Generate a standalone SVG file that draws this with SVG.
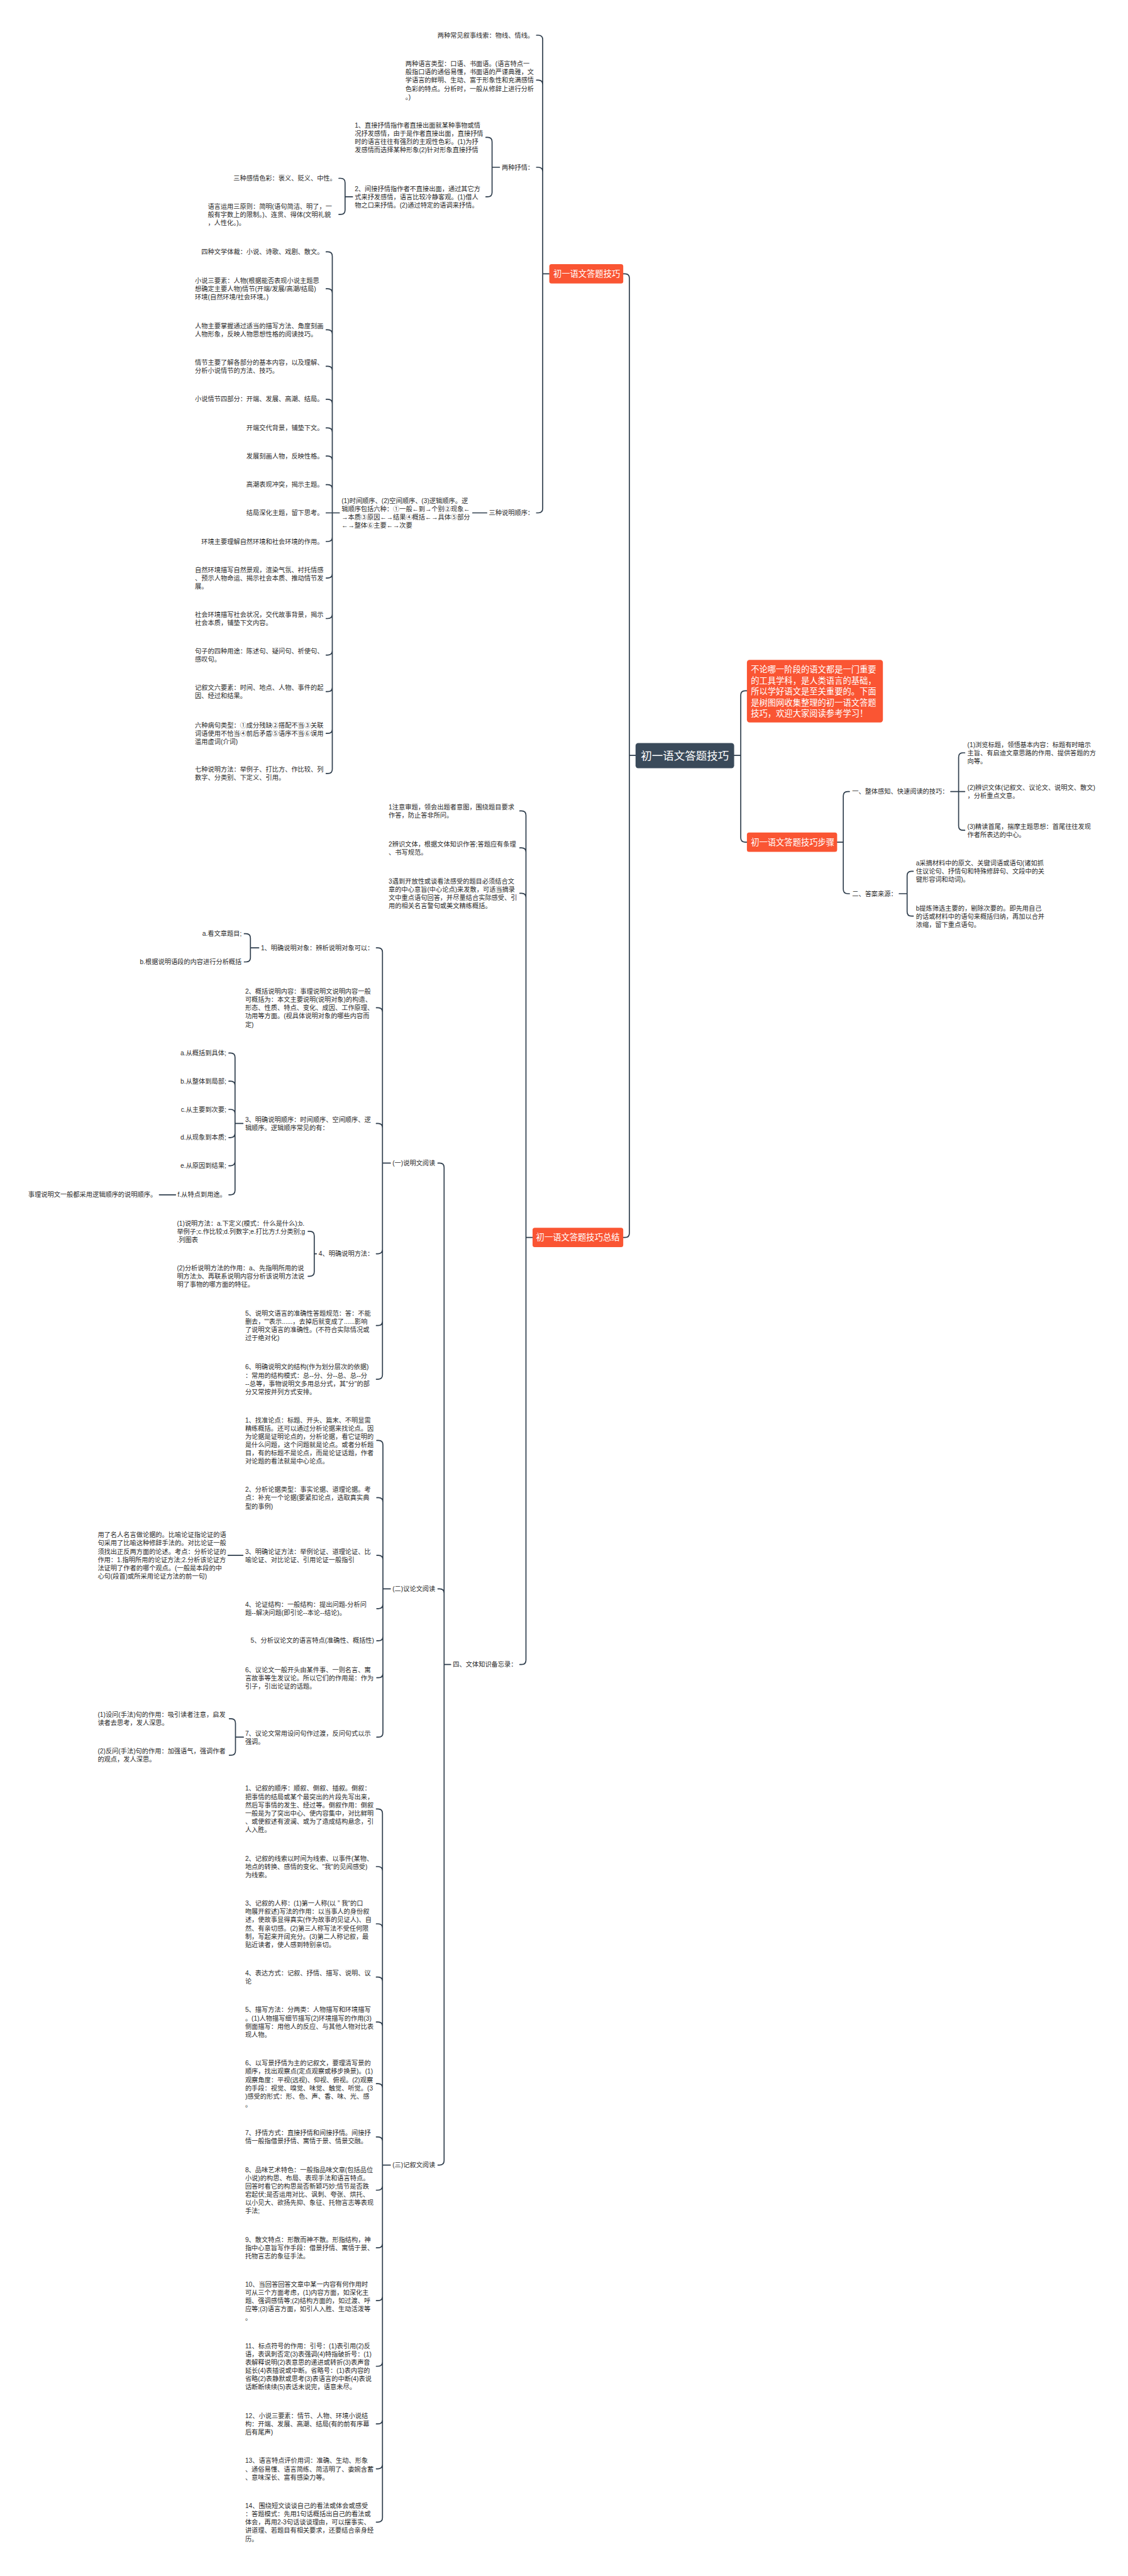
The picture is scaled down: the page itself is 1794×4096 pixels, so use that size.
<svg xmlns="http://www.w3.org/2000/svg" width="1794" height="4096" viewBox="0 0 1794 4096">
<style>
text{font-family:"Liberation Sans","Noto Sans CJK SC",sans-serif;dominant-baseline:central}
.t{font-size:14.6px;fill:#2A2A2A}
.e{text-anchor:end}
.w{fill:#fff;font-size:19px}
.r{fill:#fff;font-size:25px;text-anchor:middle}
.c{fill:none;stroke:#2E3D4C;stroke-width:2.4;stroke-linecap:round}
.o{fill:#FA5533}
</style>
<rect width="1794" height="4096" fill="#fff"/>
<g transform="scale(0.7)">
<g id="connectors">
<path class="c" d="M1444 1716H1430M1430 632V2801M1430 632Q1430 622 1420 622H1416M1430 2801Q1430 2811 1420 2811H1416"/>
<path class="c" d="M1668 1716H1683M1683 1579V1903M1683 1579Q1683 1569 1693 1569H1697M1683 1903Q1683 1913 1693 1913H1697"/>
<path class="c" d="M1248 622H1233M1233 90V1155M1233 90Q1233 80 1223 80H1219M1233 192Q1233 182 1223 182H1219M1233 390Q1233 380 1223 380H1219M1233 1155Q1233 1165 1223 1165H1219"/>
<path class="c" d="M1135 380H1118M1118 322V437M1118 322Q1118 312 1108 312H1104M1118 437Q1118 447 1108 447H1104"/>
<path class="c" d="M801 447H784M784 415V477M784 415Q784 405 774 405H770M784 477Q784 487 774 487H770"/>
<path class="c" d="M1106 1165H1074"/>
<path class="c" d="M771 1165H755M755 582V1747M755 582Q755 572 745 572H741M755 666Q755 656 745 656H741M755 759Q755 749 745 749H741M755 842Q755 832 745 832H741M755 917Q755 907 745 907H741M755 982Q755 972 745 972H741M755 1046Q755 1036 745 1036H741M755 1111Q755 1101 745 1101H741M755 1165H741M755 1220Q755 1230 745 1230H741M755 1303Q755 1313 745 1313H741M755 1395Q755 1405 745 1405H741M755 1478Q755 1488 745 1488H741M755 1561Q755 1571 745 1571H741M755 1656Q755 1666 745 1666H741M755 1747Q755 1757 745 1757H741"/>
<path class="c" d="M1210 2811H1195M1195 1852V3771M1195 1852Q1195 1842 1185 1842H1181M1195 1936Q1195 1926 1185 1926H1181M1195 2039Q1195 2029 1185 2029H1181M1195 3771Q1195 3781 1185 3781H1181"/>
<path class="c" d="M1024 3781H1009M1009 2652V4908M1009 2652Q1009 2642 999 2642H995M1009 3619Q1009 3609 999 3609H995M1009 4908Q1009 4918 999 4918H995"/>
<path class="c" d="M887 2642H869M869 2163V3123M869 2163Q869 2153 859 2153H855M869 2299Q869 2289 859 2289H855M869 2562Q869 2552 859 2552H855M869 2838Q869 2848 859 2848H855M869 3001Q869 3011 859 3011H855M869 3123Q869 3133 859 3133H855"/>
<path class="c" d="M588 2153H569M569 2131V2175M569 2131Q569 2121 559 2121H555M569 2175Q569 2185 559 2185H555"/>
<path class="c" d="M552 2552H534M534 2402V2704M534 2402Q534 2392 524 2392H520M534 2466Q534 2456 524 2456H520M534 2530Q534 2520 524 2520H520M534 2574Q534 2584 524 2584H520M534 2638Q534 2648 524 2648H520M534 2704Q534 2714 524 2714H520"/>
<path class="c" d="M399 2714H362"/>
<path class="c" d="M719 2848H714M714 2807V2889M714 2807Q714 2797 704 2797H700M714 2889Q714 2899 704 2899H700"/>
<path class="c" d="M887 3609H870M870 3282V3936M870 3282Q870 3272 860 3272H856M870 3412Q870 3402 860 3402H856M870 3543Q870 3533 860 3533H856M870 3644Q870 3654 860 3654H856M870 3717Q870 3727 860 3727H856M870 3801Q870 3811 860 3811H856M870 3936Q870 3946 860 3946H856"/>
<path class="c" d="M552 3533H518"/>
<path class="c" d="M553 3946H535M535 3914V3977M535 3914Q535 3904 525 3904H521M535 3977Q535 3987 525 3987H521"/>
<path class="c" d="M887 4918H869M869 4119V5719M869 4119Q869 4109 859 4109H855M869 4250Q869 4240 859 4240H855M869 4380Q869 4370 859 4370H855M869 4501Q869 4491 859 4491H855M869 4603Q869 4593 859 4593H855M869 4743Q869 4733 859 4733H855M869 4864Q869 4854 859 4854H855M869 4965Q869 4975 859 4975H855M869 5096Q869 5106 859 5106H855M869 5216Q869 5226 859 5226H855M869 5365Q869 5375 859 5375H855M869 5496Q869 5506 859 5506H855M869 5598Q869 5608 859 5608H855M869 5719Q869 5729 859 5729H855"/>
<path class="c" d="M1902 1913H1916M1916 1808V2020M1916 1808Q1916 1798 1926 1798H1930M1916 2020Q1916 2030 1926 2030H1930"/>
<path class="c" d="M2160 1798H2178M2178 1720V1876M2178 1720Q2178 1710 2188 1710H2192M2178 1798H2192M2178 1876Q2178 1886 2188 1886H2192"/>
<path class="c" d="M2043 2030H2061M2061 1989V2071M2061 1989Q2061 1979 2071 1979H2075M2061 2071Q2061 2081 2071 2081H2075"/>
</g>

<g id="n-root"><rect x="1444" y="1688" width="224" height="57" rx="6" fill="#3A4A5A"/><text class="r" x="1556" y="1716.5">初一语文答题技巧</text></g>
<g id="n-o1"><rect class="o" x="1248" y="600" width="168" height="44" rx="5"/><text class="w" x="1257" y="622">初一语文答题技巧</text></g>
<g id="n-o2"><rect class="o" x="1210" y="2789" width="206" height="44" rx="5"/><text class="w" x="1218" y="2811">初一语文答题技巧总结</text></g>
<g id="n-intro"><rect class="o" x="1697" y="1499" width="309" height="142" rx="6"/><text class="w"><tspan x="1706" y="1520">不论哪一阶段的语文都是一门重要</tspan><tspan x="1706" y="1545">的工具学科，是人类语言的基础，</tspan><tspan x="1706" y="1570">所以学好语文是至关重要的。下面</tspan><tspan x="1706" y="1595">是树图网收集整理的初一语文答题</tspan><tspan x="1706" y="1620">技巧，欢迎大家阅读参考学习！</tspan></text></g>
<g id="n-step"><rect class="o" x="1697" y="1891" width="205" height="44" rx="5"/><text class="w" x="1706" y="1913">初一语文答题技巧步骤</text></g>

<g id="n-r1"><text class="t" x="1936" y="1798">一、整体感知、快速阅读的技巧：</text></g>
<g id="n-r2"><text class="t" x="1936" y="2030">二、答案来源：</text></g>
<g id="n-r11"><text class="t"><tspan x="2198" y="1691.2">(1)浏览标题，领悟基本内容：标题有时暗示</tspan><tspan x="2198" y="1710">主旨、有启迪文章思路的作用、提供答题的方</tspan><tspan x="2198" y="1728.8">向等。</tspan></text></g>
<g id="n-r12"><text class="t"><tspan x="2198" y="1788.6">(2)辨识文体(记叙文、议论文、说明文、散文)</tspan><tspan x="2198" y="1807.4">，分析重点文意。</tspan></text></g>
<g id="n-r13"><text class="t"><tspan x="2198" y="1876.6">(3)精读首尾，揣摩主题思想：首尾往往发现</tspan><tspan x="2198" y="1895.4">作者所表达的中心。</tspan></text></g>
<g id="n-r21"><text class="t"><tspan x="2081" y="1960.2">a采摘材料中的原文、关键词语或语句(诸如抓</tspan><tspan x="2081" y="1979">住议论句、抒情句和特殊修辞句、文段中的关</tspan><tspan x="2081" y="1997.8">键形容词和动词)。</tspan></text></g>
<g id="n-r22"><text class="t"><tspan x="2081" y="2062.2">b提炼筛选主要的，剔除次要的。即先用自己</tspan><tspan x="2081" y="2081">的话或材料中的语句来概括归纳，再加以合并</tspan><tspan x="2081" y="2099.8">浓缩，留下重点语句。</tspan></text></g>

<g id="n-a1"><text class="t e" x="1213" y="80">两种常见叙事线索：物线、情线。</text></g>
<g id="n-a2"><text class="t"><tspan x="921" y="144.4">两种语言类型：口语、书面语。(语言特点一</tspan><tspan x="921" y="163.2">般指口语的通俗易懂，书面语的严谨典雅，文</tspan><tspan x="921" y="182">学语言的鲜明、生动、富于形象性和充满感情</tspan><tspan x="921" y="200.8">色彩的特点。分析时，一般从修辞上进行分析</tspan><tspan x="921" y="219.6">。)</tspan></text></g>
<g id="n-a3"><text class="t e" x="1213" y="380">两种抒情：</text></g>
<g id="n-b1"><text class="t"><tspan x="806" y="283.8">1、直接抒情指作者直接出面就某种事物或情</tspan><tspan x="806" y="302.6">况抒发感情，由于是作者直接出面，直接抒情</tspan><tspan x="806" y="321.4">时的语言往往有强烈的主观性色彩。(1)为抒</tspan><tspan x="806" y="340.2">发感情而选择某种形象(2)针对形象直接抒情</tspan></text></g>
<g id="n-b2"><text class="t"><tspan x="806" y="428.2">2、间接抒情指作者不直接出面，通过其它方</tspan><tspan x="806" y="447">式来抒发感情，语言比较冷静客观。(1)借人</tspan><tspan x="806" y="465.8">物之口来抒情。(2)通过特定的语调来抒情。</tspan></text></g>
<g id="n-c1"><text class="t e" x="764" y="405">三种感情色彩：褒义、贬义、中性。</text></g>
<g id="n-c2"><text class="t"><tspan x="472" y="468.2">语言运用三原则：简明(语句简洁、明了，一</tspan><tspan x="472" y="487">般有字数上的限制。)、连贯、得体(文明礼貌</tspan><tspan x="472" y="505.8">，人性化。)。</tspan></text></g>
<g id="n-a4"><text class="t e" x="1213" y="1165">三种说明顺序：</text></g>
<g id="n-s1"><text class="t"><tspan x="776" y="1136.8">(1)时间顺序、(2)空间顺序、(3)逻辑顺序。逻</tspan><tspan x="776" y="1155.6">辑顺序包括六种：①一般←到→个别②现象←</tspan><tspan x="776" y="1174.4">→本质③原因←→结果④概括←→具体⑤部分</tspan><tspan x="776" y="1193.2">←→整体⑥主要←→次要</tspan></text></g>

<g id="n-d1"><text class="t e" x="735" y="572">四种文学体裁：小说、诗歌、戏剧、散文。</text></g>
<g id="n-d2"><text class="t"><tspan x="443" y="637.2">小说三要素：人物(根据能否表现小说主题思</tspan><tspan x="443" y="656">想确定主要人物)情节(开端/发展/高潮/结局)</tspan><tspan x="443" y="674.8">环境(自然环境/社会环境。)</tspan></text></g>
<g id="n-d3"><text class="t"><tspan x="443" y="739.6">人物主要掌握通过适当的描写方法、角度刻画</tspan><tspan x="443" y="758.4">人物形象，反映人物思想性格的阅读技巧。</tspan></text></g>
<g id="n-d4"><text class="t"><tspan x="443" y="822.6">情节主要了解各部分的基本内容，以及理解、</tspan><tspan x="443" y="841.4">分析小说情节的方法、技巧。</tspan></text></g>
<g id="n-d5"><text class="t e" x="735" y="907">小说情节四部分：开端、发展、高潮、结局。</text></g>
<g id="n-d6"><text class="t e" x="735" y="972">开端交代背景，铺垫下文。</text></g>
<g id="n-d7"><text class="t e" x="735" y="1036">发展刻画人物，反映性格。</text></g>
<g id="n-d8"><text class="t e" x="735" y="1101">高潮表现冲突，揭示主题。</text></g>
<g id="n-d9"><text class="t e" x="735" y="1165">结局深化主题，留下思考。</text></g>
<g id="n-d10"><text class="t e" x="735" y="1230">环境主要理解自然环境和社会环境的作用。</text></g>
<g id="n-d11"><text class="t"><tspan x="443" y="1294.2">自然环境描写自然景观，渲染气氛、衬托情感</tspan><tspan x="443" y="1313">、预示人物命运、揭示社会本质、推动情节发</tspan><tspan x="443" y="1331.8">展。</tspan></text></g>
<g id="n-d12"><text class="t"><tspan x="443" y="1395.6">社会环境描写社会状况，交代故事背景，揭示</tspan><tspan x="443" y="1414.4">社会本质，铺垫下文内容。</tspan></text></g>
<g id="n-d13"><text class="t"><tspan x="443" y="1478.6">句子的四种用途：陈述句、疑问句、祈使句、</tspan><tspan x="443" y="1497.4">感叹句。</tspan></text></g>
<g id="n-d14"><text class="t"><tspan x="443" y="1561.6">记叙文六要素：时间、地点、人物、事件的起</tspan><tspan x="443" y="1580.4">因、经过和结果。</tspan></text></g>
<g id="n-d15"><text class="t"><tspan x="443" y="1647.2">六种病句类型：①成分残缺②搭配不当③关联</tspan><tspan x="443" y="1666">词语使用不恰当④前后矛盾⑤语序不当⑥误用</tspan><tspan x="443" y="1684.8">滥用虚词(介词)</tspan></text></g>
<g id="n-d16"><text class="t"><tspan x="443" y="1747.6">七种说明方法：举例子、打比方、作比较、列</tspan><tspan x="443" y="1766.4">数字、分类别、下定义、引用。</tspan></text></g>

<g id="n-e1"><text class="t"><tspan x="883" y="1832.6">1注意审题，领会出题者意图，围绕题目要求</tspan><tspan x="883" y="1851.4">作答，防止答非所问。</tspan></text></g>
<g id="n-e2"><text class="t"><tspan x="883" y="1916.6">2辨识文体，根据文体知识作答;答题应有条理</tspan><tspan x="883" y="1935.4">、书写规范。</tspan></text></g>
<g id="n-e3"><text class="t"><tspan x="883" y="2000.8">3遇到开放性或谈看法感受的题目必须结合文</tspan><tspan x="883" y="2019.6">章的中心意旨(中心论点)来发散，可适当摘录</tspan><tspan x="883" y="2038.4">文中重点语句回答，并尽量结合实际感受、引</tspan><tspan x="883" y="2057.2">用的相关名言警句或美文精练概括。</tspan></text></g>
<g id="n-e4"><text class="t e" x="1175" y="3781">四、文体知识备忘录：</text></g>

<g id="n-f1"><text class="t e" x="989" y="2642">(一)说明文阅读</text></g>
<g id="n-f2"><text class="t e" x="989" y="3609">(二)议论文阅读</text></g>
<g id="n-f3"><text class="t e" x="989" y="4918">(三)记叙文阅读</text></g>

<g id="n-g1"><text class="t e" x="849" y="2153">1、明确说明对象：辨析说明对象可以：</text></g>
<g id="n-h1"><text class="t e" x="549" y="2121">a.看文章题目;</text></g>
<g id="n-h2"><text class="t e" x="549" y="2185">b.根据说明语段的内容进行分析概括</text></g>
<g id="n-g2"><text class="t"><tspan x="557" y="2251.4">2、概括说明内容：事理说明文说明内容一般</tspan><tspan x="557" y="2270.2">可概括为：本文主要说明(说明对象)的构造、</tspan><tspan x="557" y="2289">形态、性质、特点、变化、成因、工作原理、</tspan><tspan x="557" y="2307.8">功用等方面。(视具体说明对象的哪些内容而</tspan><tspan x="557" y="2326.6">定)</tspan></text></g>
<g id="n-g3"><text class="t"><tspan x="557" y="2542.6">3、明确说明顺序：时间顺序、空间顺序、逻</tspan><tspan x="557" y="2561.4">辑顺序。逻辑顺序常见的有：</tspan></text></g>
<g id="n-i1"><text class="t e" x="514" y="2392">a.从概括到具体;</text></g>
<g id="n-i2"><text class="t e" x="514" y="2456">b.从整体到局部;</text></g>
<g id="n-i3"><text class="t e" x="514" y="2520">c.从主要到次要;</text></g>
<g id="n-i4"><text class="t e" x="514" y="2584">d.从现象到本质;</text></g>
<g id="n-i5"><text class="t e" x="514" y="2648">e.从原因到结果;</text></g>
<g id="n-i6"><text class="t e" x="514" y="2714">f.从特点到用途。</text></g>
<g id="n-i7"><text class="t e" x="356" y="2714">事理说明文一般都采用逻辑顺序的说明顺序。</text></g>
<g id="n-g4"><text class="t e" x="849" y="2848">4、明确说明方法：</text></g>
<g id="n-j1"><text class="t"><tspan x="402" y="2778.2">(1)说明方法：a.下定义(模式：什么是什么);b.</tspan><tspan x="402" y="2797">举例子;c.作比较;d.列数字;e.打比方;f.分类别;g</tspan><tspan x="402" y="2815.8">.列图表</tspan></text></g>
<g id="n-j2"><text class="t"><tspan x="402" y="2880.2">(2)分析说明方法的作用：a、先指明所用的说</tspan><tspan x="402" y="2899">明方法;b、再联系说明内容分析该说明方法说</tspan><tspan x="402" y="2917.8">明了事物的哪方面的特征。</tspan></text></g>
<g id="n-g5"><text class="t"><tspan x="557" y="2982.8">5、说明文语言的准确性答题规范：答：不能</tspan><tspan x="557" y="3001.6">删去，""表示......，去掉后就变成了......影响</tspan><tspan x="557" y="3020.4">了说明文语言的准确性。(不符合实际情况或</tspan><tspan x="557" y="3039.2">过于绝对化)</tspan></text></g>
<g id="n-g6"><text class="t"><tspan x="557" y="3104.8">6、明确说明文的结构(作为划分层次的依据)</tspan><tspan x="557" y="3123.6">：常用的结构模式：总--分、分--总、总--分</tspan><tspan x="557" y="3142.4">--总等，事物说明文多用总分式，其"分"的部</tspan><tspan x="557" y="3161.2">分又常按并列方式安排。</tspan></text></g>

<g id="n-k1"><text class="t"><tspan x="557" y="3225">1、找准论点：标题、开头、篇末、不明显需</tspan><tspan x="557" y="3243.8">精练概括。还可以通过分析论据来找论点。因</tspan><tspan x="557" y="3262.6">为论据是证明论点的，分析论据，看它证明的</tspan><tspan x="557" y="3281.4">是什么问题，这个问题就是论点。或者分析题</tspan><tspan x="557" y="3300.2">目，有的标题不是论点，而是论证话题，作者</tspan><tspan x="557" y="3319">对论题的看法就是中心论点。</tspan></text></g>
<g id="n-k2"><text class="t"><tspan x="557" y="3383.2">2、分析论据类型：事实论据、道理论据。考</tspan><tspan x="557" y="3402">点：补充一个论据(要紧扣论点，选取真实典</tspan><tspan x="557" y="3420.8">型的事例)</tspan></text></g>
<g id="n-k3"><text class="t"><tspan x="557" y="3523.6">3、明确论证方法：举例论证、道理论证、比</tspan><tspan x="557" y="3542.4">喻论证、对比论证、引用论证一般指引</tspan></text></g>
<g id="n-k3a"><text class="t"><tspan x="222" y="3486">用了名人名言做论据的。比喻论证指论证的语</tspan><tspan x="222" y="3504.8">句采用了比喻这种修辞手法的。对比论证一般</tspan><tspan x="222" y="3523.6">须找出正反两方面的论述。考点：分析论证的</tspan><tspan x="222" y="3542.4">作用：1.指明所用的论证方法;2.分析该论证方</tspan><tspan x="222" y="3561.2">法证明了作者的哪个观点。(一般是本段的中</tspan><tspan x="222" y="3580">心句(段首)或所采用论证方法的前一句)</tspan></text></g>
<g id="n-k4"><text class="t"><tspan x="557" y="3644.6">4、论证结构：一般结构：提出问题-分析问</tspan><tspan x="557" y="3663.4">题--解决问题(即引论--本论--结论)。</tspan></text></g>
<g id="n-k5"><text class="t e" x="850" y="3727">5、分析议论文的语言特点(准确性、概括性)</text></g>
<g id="n-k6"><text class="t"><tspan x="557" y="3792.2">6、议论文一般开头由某件事、一则名言、寓</tspan><tspan x="557" y="3811">言故事等生发议论。所以它们的作用是：作为</tspan><tspan x="557" y="3829.8">引子，引出论证的话题。</tspan></text></g>
<g id="n-k7"><text class="t"><tspan x="557" y="3936.6">7、议论文常用设问句作过渡，反问句式以示</tspan><tspan x="557" y="3955.4">强调。</tspan></text></g>
<g id="n-l1"><text class="t"><tspan x="222" y="3894.6">(1)设问(手法)句的作用：吸引读者注意，启发</tspan><tspan x="222" y="3913.4">读者去思考，发人深思。</tspan></text></g>
<g id="n-l2"><text class="t"><tspan x="222" y="3977.6">(2)反问(手法)句的作用：加强语气，强调作者</tspan><tspan x="222" y="3996.4">的观点，发人深思。</tspan></text></g>

<g id="n-m1"><text class="t"><tspan x="557" y="4062">1、记叙的顺序：顺叙、倒叙、插叙。倒叙：</tspan><tspan x="557" y="4080.8">把事情的结局或某个最突出的片段先写出来，</tspan><tspan x="557" y="4099.6">然后写事情的发生、经过等。倒叙作用：倒叙</tspan><tspan x="557" y="4118.4">一般是为了突出中心、使内容集中，对比鲜明</tspan><tspan x="557" y="4137.2">、或使叙述有波澜、或为了造成结构悬念，引</tspan><tspan x="557" y="4156">人入胜。</tspan></text></g>
<g id="n-m2"><text class="t"><tspan x="557" y="4221.2">2、记叙的线索以时间为线索、以事件(某物、</tspan><tspan x="557" y="4240">地点的转换、感情的变化、"我"的见闻感受)</tspan><tspan x="557" y="4258.8">为线索。</tspan></text></g>
<g id="n-m3"><text class="t"><tspan x="557" y="4323">3、记叙的人称：(1)第一人称(以 ” 我"的口</tspan><tspan x="557" y="4341.8">吻展开叙述)写法的作用：以当事人的身份叙</tspan><tspan x="557" y="4360.6">述，使故事显得真实(作为故事的见证人)、自</tspan><tspan x="557" y="4379.4">然、有亲切感。(2)第三人称写法不受任何限</tspan><tspan x="557" y="4398.2">制，写起来开阔充分。(3)第二人称记叙，最</tspan><tspan x="557" y="4417">贴近读者，使人感到特别亲切。</tspan></text></g>
<g id="n-m4"><text class="t"><tspan x="557" y="4481.6">4、表达方式：记叙、抒情、描写、说明、议</tspan><tspan x="557" y="4500.4">论</tspan></text></g>
<g id="n-m5"><text class="t"><tspan x="557" y="4564.8">5、描写方法：分两类：人物描写和环境描写</tspan><tspan x="557" y="4583.6">。(1)人物描写细节描写(2)环境描写的作用(3)</tspan><tspan x="557" y="4602.4">侧面描写：用他人的反应、与其他人物对比表</tspan><tspan x="557" y="4621.2">现人物。</tspan></text></g>
<g id="n-m6"><text class="t"><tspan x="557" y="4686">6、以写景抒情为主的记叙文，要理清写景的</tspan><tspan x="557" y="4704.8">顺序，找出观察点(定点观察或移步换景)。(1)</tspan><tspan x="557" y="4723.6">观察角度：平视(远视)、仰视、俯视。(2)观察</tspan><tspan x="557" y="4742.4">的手段：视觉、嗅觉、味觉、触觉、听觉。(3</tspan><tspan x="557" y="4761.2">)感受的形式：形、色、声、香、味、光、感</tspan><tspan x="557" y="4780">。</tspan></text></g>
<g id="n-m7"><text class="t"><tspan x="557" y="4844.6">7、抒情方式：直接抒情和间接抒情。间接抒</tspan><tspan x="557" y="4863.4">情一般指借景抒情、寓情于景、情景交融。</tspan></text></g>
<g id="n-m8"><text class="t"><tspan x="557" y="4928">8、品味艺术特色：一般指品味文章(包括品位</tspan><tspan x="557" y="4946.8">小说)的构思、布局、表现手法和语言特点。</tspan><tspan x="557" y="4965.6">回答时看它的构思是否新颖巧妙;情节是否跌</tspan><tspan x="557" y="4984.4">宕起伏;是否运用对比、讽刺、夸张、烘托、</tspan><tspan x="557" y="5003.2">以小见大、欲扬先抑、象征、托物言志等表现</tspan><tspan x="557" y="5022">手法;</tspan></text></g>
<g id="n-m9"><text class="t"><tspan x="557" y="5087.2">9、散文特点：形散而神不散。形指结构，神</tspan><tspan x="557" y="5106">指中心意旨写作手段：借景抒情、寓情于景、</tspan><tspan x="557" y="5124.8">托物言志的象征手法。</tspan></text></g>
<g id="n-m10"><text class="t"><tspan x="557" y="5188.4">10、当回答回答文章中某一内容有何作用时</tspan><tspan x="557" y="5207.2">可从三个方面考虑，(1)内容方面，如深化主</tspan><tspan x="557" y="5226">题、强调感情等;(2)结构方面的，如过渡、呼</tspan><tspan x="557" y="5244.8">应等;(3)语言方面，如引人入胜、生动活泼等</tspan><tspan x="557" y="5263.6">。</tspan></text></g>
<g id="n-m11"><text class="t"><tspan x="557" y="5328">11、标点符号的作用：引号：(1)表引用(2)反</tspan><tspan x="557" y="5346.8">语，表讽刺否定(3)表强调(4)特指破折号：(1)</tspan><tspan x="557" y="5365.6">表解释说明(2)表意思的递进或转折(3)表声音</tspan><tspan x="557" y="5384.4">延长(4)表插说或中断。省略号：(1)表内容的</tspan><tspan x="557" y="5403.2">省略(2)表静默或思考(3)表语言的中断(4)表说</tspan><tspan x="557" y="5422">话断断续续(5)表话未说完，语意未尽。</tspan></text></g>
<g id="n-m12"><text class="t"><tspan x="557" y="5487.2">12、小说三要素：情节、人物、环境小说结</tspan><tspan x="557" y="5506">构：开端、发展、高潮、结局(有的前有序幕</tspan><tspan x="557" y="5524.8">后有尾声)</tspan></text></g>
<g id="n-m13"><text class="t"><tspan x="557" y="5589.2">13、语言特点评价用词：准确、生动、形象</tspan><tspan x="557" y="5608">、通俗易懂、语言简练、简洁明了、委婉含蓄</tspan><tspan x="557" y="5626.8">、意味深长、富有感染力等。</tspan></text></g>
<g id="n-m14"><text class="t"><tspan x="557" y="5691.4">14、围绕短文谈谈自己的看法或体会或感受</tspan><tspan x="557" y="5710.2">：答题模式：先用1句话概括出自己的看法或</tspan><tspan x="557" y="5729">体会，再用2-3句话谈谈理由，可以摆事实、</tspan><tspan x="557" y="5747.8">讲道理、若题目有相关要求，还要结合亲身经</tspan><tspan x="557" y="5766.6">历。</tspan></text></g>
</g>
</svg>
